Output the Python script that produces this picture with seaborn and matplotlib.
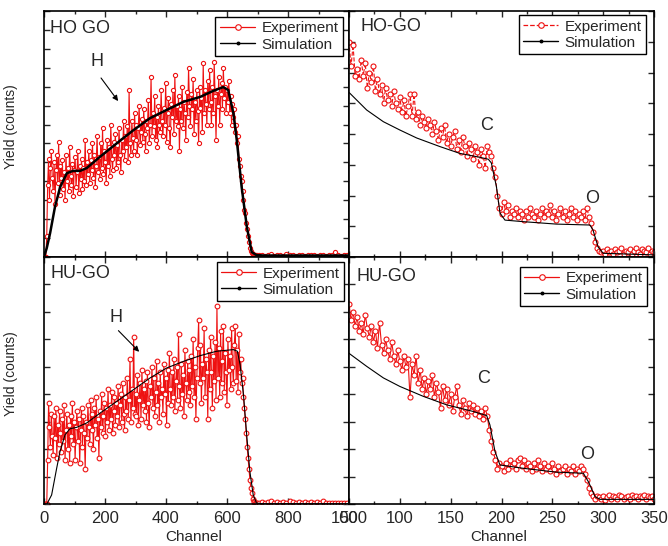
import numpy as np
import matplotlib
matplotlib.use("Agg")
import matplotlib.pyplot as plt
from matplotlib.lines import Line2D
import seaborn as sns
from matplotlib.ticker import MultipleLocator

# ---------------- data ----------------
# HO GO (H spectrum, channels 0-1000)
ho_h_channel = np.concatenate([np.arange(0, 700, 3), np.arange(705, 1000, 10)])
ho_h_exp = [
    0, 0, 0, 110, 380, 520, 300, 470, 560, 420,
    350, 500, 280, 460, 540, 390, 610, 330, 480, 420,
    510, 360, 450, 300, 540, 400, 470, 350, 580, 430,
    380, 490, 320, 460, 530, 370, 450, 560, 340, 480,
    410, 520, 360, 470, 400, 620, 380, 500, 440, 560,
    390, 510, 460, 600, 420, 540, 370, 480, 640, 450,
    530, 410, 600, 470, 680, 440, 560, 500, 390, 620,
    480, 580, 430, 700, 520, 460, 610, 540, 650, 470,
    590, 500, 680, 540, 450, 620, 560, 720, 510, 640,
    580, 690, 500, 880, 600, 540, 720, 630, 560, 760,
    620, 700, 540, 680, 800, 590, 660, 730, 610, 780,
    650, 560, 720, 680, 830, 600, 700, 950, 640, 760,
    690, 850, 620, 740, 580, 800, 700, 660, 880, 720,
    640, 790, 700, 920, 610, 760, 840, 680, 580, 810,
    740, 880, 650, 960, 720, 800, 690, 850, 560, 780,
    720, 900, 680, 820, 760, 620, 870, 740, 1000, 800,
    690, 860, 780, 940, 650, 820, 720, 880, 770, 600,
    900, 790, 840, 660, 1025, 760, 880, 810, 700, 930,
    780, 990, 820, 700, 900, 760, 1030, 850, 620, 880,
    800, 950, 700, 860, 920, 780, 1000, 840, 900, 760,
    880, 820, 930, 760, 850, 700, 810, 740, 780, 660,
    700, 600, 640, 520, 480, 430, 400, 350, 300, 250,
    230, 180, 150, 110, 80, 50, 30, 20, 14, 10,
    10, 8, 9, 8,
    8, 12, 6, 10, 15, 7, 9, 11, 6, 14, 8, 10, 7, 12, 9,
    6, 11, 8, 13, 7, 9, 10, 6, 12, 8, 25, 9, 7, 10, 8,
]
ho_h_sim_x = [0, 9, 20, 36, 53, 75, 95, 118, 140, 184, 238, 293, 348, 402, 457,
              512, 555, 588, 604, 621, 632, 648, 665, 681, 697, 720, 1000]
ho_h_sim_y = [0, 47, 126, 265, 370, 443, 455, 455, 470, 530, 600, 670, 734, 777, 820,
              846, 878, 898, 882, 760, 618, 370, 160, 26, 10, 8, 8]

# HO-GO (C/O spectrum, channels 50-350)
ho_co_channel = np.arange(50, 351, 2)
ho_co_exp = [
    7.0, 6.2, 6.9, 5.9, 6.1, 5.8, 6.4, 5.9, 6.3, 5.5,
    6.0, 5.7, 6.2, 5.4, 5.8, 5.3, 5.6, 5.0, 5.5, 5.1,
    5.3, 4.9, 5.4, 5.0, 4.8, 5.2, 4.7, 5.1, 4.6, 4.9,
    5.3, 4.6, 5.3, 4.5, 4.7, 4.3, 4.6, 4.4, 4.2, 4.5,
    4.3, 4.0, 4.4, 4.1, 3.8, 4.2, 3.9, 4.3, 3.7, 4.0,
    3.6, 3.9, 4.1, 3.5, 3.8, 3.4, 3.9, 3.6, 3.3, 3.7,
    3.5, 3.2, 3.6, 3.4, 3.0, 3.5, 3.3, 2.9, 3.6, 3.4,
    3.3, 2.9, 2.6, 2.0, 1.6, 1.4, 1.8, 1.5, 1.7, 1.3,
    1.5, 1.4, 1.6, 1.3, 1.5, 1.4, 1.2, 1.5, 1.3, 1.6,
    1.4, 1.3, 1.5, 1.2, 1.4, 1.6, 1.3, 1.5, 1.4, 1.7,
    1.3, 1.5, 1.2, 1.4, 1.6, 1.3, 1.5, 1.2, 1.4, 1.6,
    1.3, 1.5, 1.2, 1.4, 1.3, 1.5, 1.2, 1.6, 1.3, 1.1,
    0.8, 0.5, 0.3, 0.2, 0.15, 0.2, 0.1, 0.25, 0.15, 0.2,
    0.1, 0.25, 0.15, 0.2, 0.3, 0.1, 0.2, 0.15, 0.25, 0.1,
    0.2, 0.3, 0.15, 0.1, 0.25, 0.2, 0.15, 0.3, 0.1, 0.2,
    0.15,
]
ho_co_sim_x = [50, 51, 67.4, 83.8, 100, 116.6, 139.5, 159, 179, 187, 190, 195, 198.5,
               203.4, 221, 254, 287, 290, 295, 300, 349, 350]
ho_co_sim_y = [5.35, 5.32, 4.78, 4.40, 4.13, 3.87, 3.59, 3.37, 3.24, 3.18, 3.06, 2.29, 1.43,
               1.20, 1.15, 1.07, 1.04, 0.88, 0.33, 0.12, 0.07, 0.07]

# HU-GO (H spectrum)
hu_h_channel = np.concatenate([np.arange(0, 700, 3), np.arange(705, 1000, 10)])
hu_h_exp = [
    0, 0, 0, 0, 1.6, 3.7, 2.8, 2.1, 3.3, 2.5,
    1.8, 3.2, 2.4, 3.5, 1.7, 2.9, 2.2, 3.4, 2.6, 1.9,
    3.1, 2.3, 3.6, 1.6, 2.7, 3.3, 2.0, 2.9, 1.5, 3.2,
    2.5, 3.7, 2.2, 3.0, 1.6, 2.8, 3.4, 2.3, 3.1, 1.5,
    2.7, 3.5, 2.1, 3.2, 2.6, 1.3, 3.0, 2.4, 3.6, 2.8,
    2.2, 3.8, 2.7, 3.3, 2.0, 3.5, 2.9, 3.9, 2.4, 3.1,
    1.7, 3.4, 2.8, 4.0, 2.6, 3.2, 3.7, 2.5, 3.5, 3.0,
    4.2, 2.7, 3.6, 3.1, 4.1, 2.6, 3.4, 3.9, 2.9, 3.7,
    3.2, 4.3, 2.8, 3.6, 4.0, 3.0, 4.4, 3.3, 2.7, 3.9,
    3.4, 4.6, 3.1, 3.8, 5.3, 3.0, 4.2, 3.5, 6.1, 3.3,
    4.0, 3.2, 4.7, 2.9, 3.8, 4.4, 3.1, 4.9, 3.6, 4.2,
    3.4, 4.5, 3.0, 4.8, 3.7, 2.8, 4.3, 3.9, 5.0, 3.5,
    4.6, 3.2, 4.1, 5.2, 3.6, 4.4, 3.0, 4.8, 3.9, 4.2,
    3.3, 5.1, 4.0, 4.6, 2.9, 4.9, 3.7, 5.5, 4.2, 3.6,
    4.8, 3.9, 5.3, 3.4, 4.5, 5.0, 3.8, 6.2, 4.3, 3.5,
    5.1, 4.0, 4.7, 3.2, 5.6, 4.4, 3.8, 5.2, 4.1, 4.9,
    3.6, 5.4, 4.3, 6.0, 3.9, 5.0, 3.1, 4.6, 5.7, 6.7,
    4.4, 5.8, 3.7, 5.1, 4.6, 6.4, 3.9, 5.3, 4.8, 3.1,
    5.6, 4.2, 6.1, 4.8, 3.5, 5.4, 4.5, 5.9, 3.8, 7.2,
    4.6, 5.7, 3.9, 6.3, 4.4, 5.2, 6.5, 4.1, 5.5, 4.8,
    3.6, 6.0, 4.9, 5.4, 4.2, 6.4, 5.0, 4.4, 5.8, 6.5,
    4.5, 5.6, 4.1, 6.2, 4.8, 5.3, 4.4, 4.6, 3.9, 3.5,
    3.1, 2.6, 2.1, 1.7, 1.3, 0.9, 0.6, 0.4, 0.2, 0.12,
    0.08, 0.06, 0.05, 0.05,
    0.05, 0.1, 0.05, 0.08, 0.12, 0.05, 0.1, 0.06, 0.1, 0.05,
    0.12, 0.08, 0.05, 0.1, 0.06, 0.1, 0.05, 0.08, 0.05, 0.1,
    0.06, 0.12, 0.05, 0.03, 0.03, 0.03, 0.03, 0.03, 0.03, 0.03,
]
hu_h_sim_x = [0, 9, 25, 41.5, 52.5, 69, 85, 107, 140, 184, 238, 293, 348, 402, 457,
              512, 566, 621, 634, 643, 654, 664.5, 675, 686, 697, 720, 1000]
hu_h_sim_y = [0, 0, 0.34, 1.31, 1.92, 2.53, 2.75, 2.80, 2.96, 3.32, 3.74, 4.17, 4.60, 4.96, 5.20,
              5.41, 5.57, 5.63, 5.57, 5.08, 3.99, 2.53, 1.19, 0.34, 0.04, 0.02, 0.02]

# HU-GO (C/O spectrum)
hu_co_channel = np.arange(50, 351, 2)
hu_co_exp = [
    7.3, 6.7, 7.0, 6.5, 6.8, 6.3, 6.6, 6.2, 6.9, 6.4,
    6.1, 6.5, 5.9, 6.3, 5.7, 6.6, 5.8, 5.5, 6.0, 5.6,
    5.3, 5.9, 5.4, 5.1, 5.6, 5.2, 4.9, 5.4, 5.0, 5.3,
    3.9, 5.1, 4.7, 5.4, 4.4, 4.9, 4.2, 4.6, 4.0, 4.5,
    4.2, 4.7, 3.9, 4.4, 4.1, 3.5, 4.3, 3.8, 4.2, 3.6,
    4.0, 3.4, 3.9, 4.3, 3.6, 3.3, 3.8, 3.5, 3.2, 3.7,
    3.4, 3.6, 3.3, 3.5, 3.2, 3.4, 3.1, 3.5, 3.2, 2.7,
    2.3, 1.9, 1.6, 1.3, 1.5, 1.4, 1.2, 1.5, 1.3, 1.6,
    1.4, 1.5, 1.3, 1.6, 1.7, 1.4, 1.6, 1.3, 1.5, 1.4,
    1.2, 1.5, 1.3, 1.6, 1.4, 1.2, 1.5, 1.3, 1.4, 1.2,
    1.5, 1.3, 1.1, 1.4, 1.2, 1.3, 1.4, 1.1, 1.3, 1.2,
    1.4, 1.1, 1.3, 1.2, 1.4, 1.3, 1.1, 0.9, 0.6, 0.4,
    0.3, 0.2, 0.3, 0.25, 0.2, 0.3, 0.15, 0.25, 0.35, 0.2,
    0.3, 0.25, 0.2, 0.35, 0.3, 0.2, 0.25, 0.3, 0.2, 0.35,
    0.25, 0.3, 0.2, 0.3, 0.25, 0.35, 0.2, 0.3, 0.25, 0.3,
    0.2,
]
hu_co_sim_x = [50, 50.9, 67.4, 83.8, 100, 123, 146, 172, 185.4, 188.6, 193.6, 198.5,
               221.5, 254, 280.5, 285.5, 292, 297, 349, 350]
hu_co_sim_y = [5.5, 5.47, 5.02, 4.60, 4.29, 3.93, 3.62, 3.38, 3.23, 2.89, 1.92, 1.43,
               1.31, 1.17, 1.13, 0.82, 0.28, 0.18, 0.18, 0.18]

# ---------------- style ----------------
sns.set_style("ticks")
plt.rcParams["font.family"] = ["Liberation Sans", "DejaVu Sans"]
plt.rcParams["axes.linewidth"] = 1.2

RED = "#ee1111"
W, H = 668, 546

fig = plt.figure(figsize=(W / 100, H / 100), dpi=100)


def add_ax(x0, top, x1, bottom):
    return fig.add_axes([x0 / W, 1 - bottom / H, (x1 - x0) / W, (bottom - top) / H])


axTL = add_ax(44, 11, 349, 257)
axTR = add_ax(349, 11, 654, 257)
axBL = add_ax(44, 257, 349, 504.3)
axBR = add_ax(349, 257, 654, 504.3)

exp_handles = {}
sim_handles = {}


def draw(ax, ch, exp, sx, sy, sim_lw, ms, exp_ls="-"):
    sns.lineplot(x=ch, y=exp, ax=ax, color=RED, linewidth=0.8, linestyle=exp_ls,
                 marker="o", markersize=ms, markerfacecolor="white",
                 markeredgecolor=RED, markeredgewidth=0.8,
                 estimator=None, sort=False, legend=False)
    sns.lineplot(x=sx, y=sy, ax=ax, color="black", linewidth=sim_lw,
                 estimator=None, sort=False, legend=False)
    exp_handles[ax] = Line2D([], [], color=RED, linewidth=0.9, linestyle=exp_ls,
                             marker="o", markersize=4, markerfacecolor="white",
                             markeredgecolor=RED, markeredgewidth=0.8)
    sim_handles[ax] = Line2D([], [], color="black", linewidth=1.0,
                             marker="o", markersize=1.8, markerfacecolor="black",
                             markeredgecolor="black")


draw(axTL, ho_h_channel, ho_h_exp, ho_h_sim_x, ho_h_sim_y, 1.8, 3.0)
draw(axTR, ho_co_channel, ho_co_exp, ho_co_sim_x, ho_co_sim_y, 0.8, 3.6, exp_ls="--")
draw(axBL, hu_h_channel, hu_h_exp, hu_h_sim_x, hu_h_sim_y, 0.8, 3.4)
draw(axBR, hu_co_channel, hu_co_exp, hu_co_sim_x, hu_co_sim_y, 0.8, 3.6)

# axes limits and ticks
for ax in (axTL, axBL):
    ax.set_xlim(0, 1000)
    ax.xaxis.set_major_locator(MultipleLocator(200))
    ax.xaxis.set_minor_locator(MultipleLocator(100))
for ax in (axTR, axBR):
    ax.set_xlim(50, 350)
    ax.xaxis.set_major_locator(MultipleLocator(50))
    ax.xaxis.set_minor_locator(MultipleLocator(25))

axTL.set_ylim(0, 1300)
axTL.yaxis.set_major_locator(MultipleLocator(100))
axTR.set_ylim(0, 8)
axTR.yaxis.set_major_locator(MultipleLocator(1))
for ax in (axBL, axBR):
    ax.set_ylim(0, 9)
    ax.yaxis.set_major_locator(MultipleLocator(1))

for ax in (axTL, axTR, axBL, axBR):
    ax.tick_params(which="both", direction="in", top=True, right=True,
                   labelleft=False, labelbottom=False, width=1.0)
    ax.tick_params(which="major", length=4)
    ax.tick_params(which="minor", length=2.5)
    ax.set_xlabel("")
    ax.set_ylabel("")
    for s in ax.spines.values():
        s.set_linewidth(1.2)
        s.set_color("black")

for ax in (axBL, axBR):
    ax.tick_params(which="major", labelbottom=True, labelsize=12, pad=5)
    ax.set_xlabel("Channel", fontsize=11)
    ax.xaxis.set_label_coords(0.49, -0.105)
    ax.xaxis.label.set_va("top")

for ax in (axTL, axBL):
    ax.set_ylabel("Yield (counts)", fontsize=10)
    ax.yaxis.set_label_coords(-0.085, 0.53)

# legends
legend_pos = {axTL: (0.980, 0.976), axTR: (0.974, 0.984),
              axBL: (0.984, 0.980), axBR: (0.977, 0.960)}
for ax, (lx, ly) in legend_pos.items():
    leg = ax.legend([exp_handles[ax], sim_handles[ax]], ["Experiment", "Simulation"],
                    loc="upper right", bbox_to_anchor=(lx, ly), borderaxespad=0,
                    fancybox=False, edgecolor="black", framealpha=1, fontsize=11,
                    labelspacing=0.15, handlelength=2.3, borderpad=0.3,
                    handletextpad=0.4)
    leg.get_frame().set_linewidth(1.0)

# panel titles
axTL.text(0.02, 0.927, "HO GO", transform=axTL.transAxes, fontsize=13, va="center")
axTR.text(0.038, 0.936, "HO-GO", transform=axTR.transAxes, fontsize=13, va="center")
axBL.text(0.02, 0.934, "HU-GO", transform=axBL.transAxes, fontsize=13, va="center")
axBR.text(0.025, 0.92, "HU-GO", transform=axBR.transAxes, fontsize=13, va="center")

# annotations
arrow = dict(arrowstyle="-|>", color="black", lw=0.8, mutation_scale=8,
             shrinkA=0, shrinkB=0)
axTL.text(174, 1031, "H", fontsize=13, ha="center", va="center")
axTL.annotate("", xy=(243, 824), xytext=(187, 946), arrowprops=arrow)
axBL.text(236, 6.8, "H", fontsize=13, ha="center", va="center")
axBL.annotate("", xy=(312, 5.55), xytext=(244, 6.32), arrowprops=arrow)
axTR.text(185.4, 4.29, "C", fontsize=13, ha="center", va="center")
axTR.text(289.3, 1.89, "O", fontsize=13, ha="center", va="center")
axBR.text(182.8, 4.57, "C", fontsize=13, ha="center", va="center")
axBR.text(283.8, 1.82, "O", fontsize=13, ha="center", va="center")

fig.savefig("out.png", dpi=100)
